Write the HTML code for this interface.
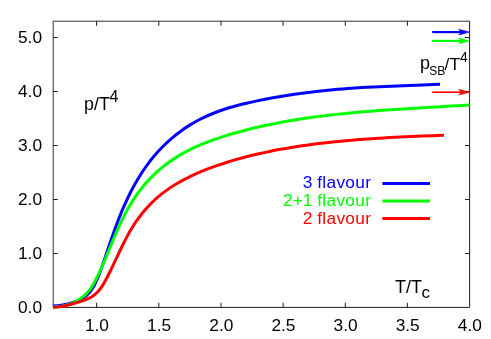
<!DOCTYPE html>
<html><head><meta charset="utf-8"><title>p/T^4</title>
<style>
html,body{margin:0;padding:0;background:#fff;}
body{width:491px;height:339px;overflow:hidden;}
svg{display:block;will-change:transform;}
text{font-family:"Liberation Sans",sans-serif;font-size:17.3px;fill:#000;}
</style></head><body>
<svg width="491" height="339" viewBox="0 0 491 339">
<rect width="491" height="339" fill="#fff"/>
<g stroke="#1c1c1c" stroke-width="1" fill="none">
<path d="M53.2,307.4V21.2H469.6" stroke="#333"/>
<path d="M469.6,21.2V307.4H53.2" />
<path d="M96.6,307.4V302.8M96.6,21.2V25.8"/><path d="M158.8,307.4V302.8M158.8,21.2V25.8"/><path d="M221.0,307.4V302.8M221.0,21.2V25.8"/><path d="M283.1,307.4V302.8M283.1,21.2V25.8"/><path d="M345.3,307.4V302.8M345.3,21.2V25.8"/><path d="M407.4,307.4V302.8M407.4,21.2V25.8"/><path d="M53.2,253.5H57.8M469.6,253.5H465.0"/><path d="M53.2,199.5H57.8M469.6,199.5H465.0"/><path d="M53.2,145.5H57.8M469.6,145.5H465.0"/><path d="M53.2,91.5H57.8M469.6,91.5H465.0"/><path d="M53.2,37.5H57.8M469.6,37.5H465.0"/>
</g>
<g fill="none" stroke-linecap="butt" stroke-linejoin="round" stroke-width="3.0">
<path d="M53.20,306.08 C53.70,306.04 55.18,305.92 56.22,305.81 C57.26,305.70 58.34,305.58 59.44,305.43 C60.54,305.28 61.67,305.11 62.80,304.92 C63.94,304.73 65.10,304.51 66.26,304.27 C67.41,304.02 68.58,303.75 69.73,303.44 C70.89,303.14 72.05,302.80 73.19,302.43 C74.32,302.06 75.45,301.65 76.55,301.20 C77.65,300.75 78.74,300.27 79.78,299.74 C80.82,299.21 81.84,298.65 82.81,298.04 C83.78,297.44 84.71,296.80 85.59,296.13 C86.46,295.46 87.29,294.75 88.05,294.02 C88.81,293.28 89.51,292.52 90.16,291.73 C90.81,290.94 91.40,290.12 91.96,289.28 C92.52,288.44 93.03,287.57 93.52,286.69 C94.02,285.80 94.48,284.89 94.94,283.96 C95.40,283.03 95.84,282.09 96.27,281.12 C96.71,280.16 97.13,279.17 97.55,278.18 C97.97,277.18 98.38,276.17 98.79,275.15 C99.20,274.13 99.60,273.09 99.99,272.05 C100.39,271.00 100.78,269.95 101.17,268.89 C101.56,267.82 101.94,266.75 102.32,265.68 C102.70,264.61 103.07,263.53 103.45,262.45 C103.82,261.37 104.19,260.28 104.56,259.20 C104.93,258.11 105.29,257.03 105.66,255.95 C106.02,254.87 106.39,253.79 106.75,252.71 C107.11,251.63 107.48,250.56 107.84,249.49 C108.20,248.42 108.56,247.35 108.93,246.29 C109.29,245.22 109.65,244.16 110.01,243.10 C110.38,242.04 110.74,240.98 111.10,239.92 C111.47,238.87 111.83,237.81 112.20,236.76 C112.57,235.71 112.94,234.67 113.31,233.62 C113.68,232.57 114.05,231.53 114.42,230.49 C114.80,229.45 115.17,228.41 115.55,227.38 C115.93,226.34 116.31,225.31 116.70,224.28 C117.09,223.25 117.47,222.22 117.87,221.19 C118.26,220.16 118.65,219.14 119.05,218.12 C119.45,217.10 119.86,216.08 120.27,215.06 C120.68,214.04 121.09,213.03 121.51,212.02 C121.92,211.00 121.74,211.32 122.78,208.98 C123.81,206.65 125.97,201.65 127.70,198.03 C129.43,194.40 131.25,190.80 133.18,187.24 C135.11,183.68 137.14,180.15 139.28,176.69 C141.43,173.23 143.68,169.81 146.04,166.50 C148.41,163.18 150.89,159.93 153.50,156.79 C156.10,153.66 158.82,150.61 161.66,147.70 C164.50,144.78 167.47,141.98 170.54,139.31 C173.60,136.64 176.78,134.09 180.04,131.69 C183.30,129.29 186.67,127.02 190.11,124.90 C193.54,122.78 197.08,120.81 200.66,119.00 C204.25,117.18 207.92,115.53 211.64,114.00 C215.35,112.46 219.14,111.08 222.95,109.79 C226.77,108.50 230.65,107.35 234.54,106.26 C238.44,105.16 242.38,104.18 246.33,103.25 C250.28,102.31 254.27,101.46 258.25,100.64 C262.23,99.82 266.23,99.05 270.23,98.31 C274.23,97.57 278.24,96.88 282.26,96.21 C286.27,95.55 290.29,94.93 294.31,94.35 C298.34,93.76 302.37,93.21 306.40,92.69 C310.44,92.18 314.48,91.69 318.52,91.24 C322.56,90.79 326.61,90.38 330.66,89.99 C334.70,89.60 338.76,89.25 342.81,88.92 C346.86,88.59 350.92,88.29 354.97,88.02 C359.03,87.75 363.08,87.51 367.14,87.29 C371.20,87.06 375.26,86.87 379.31,86.68 C383.37,86.50 387.42,86.33 391.48,86.17 C395.53,86.01 399.58,85.86 403.63,85.71 C407.68,85.56 411.73,85.41 415.78,85.26 C419.82,85.10 423.86,84.94 427.90,84.77 C431.94,84.59 437.98,84.29 440.00,84.20" stroke="#0000ff"/>
<path d="M53.20,307.28 C53.76,307.22 55.45,307.06 56.56,306.93 C57.67,306.80 58.78,306.67 59.88,306.50 C60.97,306.34 62.07,306.16 63.15,305.95 C64.23,305.73 65.30,305.50 66.36,305.21 C67.42,304.93 68.48,304.61 69.52,304.25 C70.55,303.88 71.58,303.46 72.59,303.01 C73.61,302.55 74.61,302.05 75.59,301.51 C76.57,300.98 77.55,300.40 78.50,299.80 C79.45,299.20 80.39,298.57 81.30,297.91 C82.20,297.25 83.10,296.57 83.95,295.85 C84.80,295.13 85.62,294.38 86.41,293.60 C87.19,292.82 87.94,292.01 88.64,291.16 C89.35,290.32 90.01,289.44 90.64,288.54 C91.27,287.64 91.85,286.70 92.42,285.76 C92.99,284.81 93.52,283.84 94.06,282.87 C94.59,281.91 95.11,280.93 95.63,279.95 C96.14,278.97 96.64,277.99 97.14,277.00 C97.63,276.01 98.12,275.02 98.59,274.03 C99.07,273.03 99.54,272.03 100.00,271.02 C100.47,270.02 100.92,269.01 101.38,268.00 C101.83,266.99 102.27,265.98 102.72,264.96 C103.16,263.94 103.60,262.92 104.03,261.90 C104.46,260.88 104.90,259.86 105.33,258.83 C105.75,257.81 106.18,256.78 106.61,255.75 C107.03,254.72 107.46,253.69 107.88,252.66 C108.31,251.63 108.73,250.60 109.16,249.57 C109.59,248.54 110.01,247.51 110.44,246.48 C110.86,245.44 111.29,244.41 111.72,243.38 C112.15,242.35 112.58,241.32 113.01,240.29 C113.44,239.26 113.88,238.23 114.32,237.20 C114.75,236.18 115.19,235.15 115.64,234.12 C116.08,233.10 116.53,232.08 116.98,231.06 C117.43,230.03 117.88,229.02 118.34,228.00 C118.80,226.98 119.26,225.97 119.73,224.96 C120.20,223.95 120.67,222.94 121.15,221.94 C121.63,220.93 122.11,219.93 122.60,218.93 C123.09,217.94 123.59,216.94 124.09,215.95 C124.60,214.96 125.11,213.98 125.63,213.00 C126.15,212.02 125.88,212.33 127.20,210.07 C128.52,207.81 131.29,202.88 133.55,199.42 C135.80,195.97 138.19,192.58 140.74,189.33 C143.30,186.07 146.02,182.91 148.87,179.89 C151.72,176.87 154.73,173.95 157.83,171.19 C160.94,168.43 164.18,165.79 167.51,163.32 C170.83,160.85 174.28,158.52 177.79,156.35 C181.30,154.19 184.90,152.21 188.56,150.35 C192.22,148.48 195.95,146.79 199.74,145.18 C203.52,143.56 207.38,142.08 211.27,140.65 C215.15,139.22 219.10,137.88 223.07,136.60 C227.04,135.32 231.06,134.12 235.08,132.97 C239.11,131.82 243.18,130.74 247.24,129.71 C251.31,128.68 255.40,127.72 259.48,126.79 C263.56,125.87 267.65,125.00 271.73,124.17 C275.82,123.34 279.91,122.56 284.00,121.82 C288.09,121.07 292.18,120.38 296.27,119.72 C300.36,119.05 304.46,118.43 308.55,117.84 C312.65,117.26 316.74,116.70 320.84,116.18 C324.94,115.66 329.04,115.17 333.15,114.71 C337.25,114.25 341.35,113.81 345.46,113.40 C349.57,112.99 353.68,112.61 357.79,112.24 C361.90,111.88 366.02,111.54 370.13,111.21 C374.25,110.88 378.37,110.57 382.49,110.28 C386.61,109.98 390.74,109.70 394.87,109.43 C398.99,109.16 403.12,108.90 407.26,108.65 C411.39,108.39 415.53,108.15 419.67,107.91 C423.81,107.66 427.95,107.43 432.10,107.19 C436.24,106.95 440.39,106.71 444.54,106.47 C448.70,106.22 452.85,105.98 457.01,105.72 C461.17,105.47 467.42,105.07 469.50,104.94" stroke="#00ff00"/>
<path d="M53.17,307.30 C53.68,307.27 55.18,307.21 56.22,307.12 C57.26,307.02 58.33,306.89 59.41,306.73 C60.49,306.57 61.60,306.38 62.71,306.16 C63.82,305.95 64.95,305.71 66.08,305.45 C67.21,305.19 68.36,304.91 69.50,304.62 C70.64,304.33 71.79,304.02 72.92,303.70 C74.06,303.38 75.20,303.05 76.33,302.72 C77.45,302.38 78.57,302.05 79.67,301.70 C80.77,301.36 81.86,301.02 82.93,300.65 C84.00,300.29 85.05,299.91 86.07,299.51 C87.09,299.10 88.09,298.68 89.05,298.20 C90.01,297.73 90.95,297.24 91.85,296.69 C92.75,296.13 93.61,295.54 94.43,294.89 C95.25,294.24 96.03,293.53 96.79,292.79 C97.54,292.05 98.25,291.26 98.94,290.44 C99.63,289.62 100.29,288.76 100.93,287.87 C101.56,286.99 102.17,286.07 102.76,285.13 C103.36,284.20 103.93,283.23 104.49,282.26 C105.04,281.29 105.58,280.29 106.12,279.29 C106.65,278.30 107.17,277.29 107.68,276.28 C108.20,275.27 108.70,274.26 109.21,273.25 C109.71,272.24 110.21,271.23 110.70,270.22 C111.19,269.20 111.68,268.19 112.17,267.18 C112.66,266.16 113.14,265.15 113.62,264.13 C114.10,263.12 114.57,262.11 115.05,261.09 C115.53,260.08 116.00,259.07 116.48,258.06 C116.95,257.05 117.43,256.04 117.90,255.03 C118.38,254.02 118.85,253.01 119.33,252.01 C119.81,251.00 120.29,250.00 120.77,249.00 C121.25,248.00 121.74,247.00 122.23,246.01 C122.72,245.01 123.21,244.02 123.70,243.03 C124.20,242.04 124.70,241.06 125.21,240.07 C125.72,239.09 126.23,238.12 126.75,237.14 C127.27,236.17 127.80,235.20 128.33,234.24 C128.87,233.27 129.41,232.31 129.96,231.36 C130.51,230.40 131.07,229.46 131.64,228.51 C132.21,227.57 132.78,226.63 133.37,225.70 C133.96,224.77 134.56,223.84 135.18,222.92 C135.79,222.01 135.62,222.09 137.05,220.19 C138.47,218.29 141.37,214.31 143.72,211.51 C146.07,208.71 148.57,205.96 151.15,203.37 C153.73,200.78 156.44,198.30 159.23,195.96 C162.02,193.63 164.91,191.44 167.87,189.36 C170.83,187.29 173.88,185.35 176.99,183.50 C180.10,181.66 183.29,179.93 186.52,178.29 C189.75,176.65 193.05,175.11 196.37,173.64 C199.70,172.17 203.07,170.79 206.47,169.46 C209.86,168.13 213.29,166.88 216.73,165.67 C220.18,164.47 223.64,163.32 227.13,162.23 C230.61,161.14 234.11,160.10 237.63,159.11 C241.15,158.11 244.68,157.18 248.23,156.28 C251.77,155.38 255.34,154.54 258.90,153.73 C262.47,152.92 266.05,152.15 269.64,151.42 C273.22,150.69 276.82,150.01 280.41,149.35 C284.01,148.69 287.61,148.07 291.22,147.48 C294.82,146.89 298.43,146.33 302.05,145.80 C305.66,145.27 309.27,144.77 312.89,144.30 C316.51,143.83 320.14,143.38 323.76,142.96 C327.39,142.54 331.01,142.15 334.64,141.78 C338.27,141.40 341.91,141.06 345.54,140.73 C349.18,140.40 352.81,140.09 356.45,139.80 C360.09,139.51 363.73,139.24 367.37,138.98 C371.01,138.73 374.65,138.49 378.30,138.26 C381.94,138.04 385.59,137.83 389.23,137.62 C392.88,137.42 396.52,137.24 400.17,137.06 C403.81,136.87 407.46,136.71 411.10,136.54 C414.75,136.38 418.40,136.22 422.04,136.07 C425.69,135.92 429.33,135.77 432.97,135.63 C436.62,135.48 442.08,135.27 443.90,135.20" stroke="#ff0000"/>
</g>
<path d="M432.2,32.1H461.2" stroke="#0000ff" stroke-width="2.2" fill="none"/><path d="M469.5,32.1L458.7,29.200000000000003L461.2,32.1L458.7,35.0Z" fill="#0000ff" stroke="#0000ff" stroke-width="0.6" stroke-linejoin="miter"/>
<path d="M432.2,40.9H461.2" stroke="#00ff00" stroke-width="2.2" fill="none"/><path d="M469.5,40.9L458.7,38.0L461.2,40.9L458.7,43.8Z" fill="#00ff00" stroke="#00ff00" stroke-width="0.6" stroke-linejoin="miter"/>
<path d="M432.2,92.2H461.2" stroke="#ff0000" stroke-width="1.6" fill="none"/><path d="M469.5,92.2L458.7,89.3L461.2,92.2L458.7,95.10000000000001Z" fill="#ff0000" stroke="#ff0000" stroke-width="0.6" stroke-linejoin="miter"/>
<g><text x="96.9" y="331" text-anchor="middle">1.0</text><text x="159.1" y="331" text-anchor="middle">1.5</text><text x="221.3" y="331" text-anchor="middle">2.0</text><text x="283.4" y="331" text-anchor="middle">2.5</text><text x="345.6" y="331" text-anchor="middle">3.0</text><text x="407.7" y="331" text-anchor="middle">3.5</text><text x="469.8" y="331" text-anchor="middle">4.0</text><text x="42.0" y="313.0" text-anchor="end">0.0</text><text x="42.0" y="259.0" text-anchor="end">1.0</text><text x="42.0" y="205.0" text-anchor="end">2.0</text><text x="42.0" y="151.0" text-anchor="end">3.0</text><text x="42.0" y="97.0" text-anchor="end">4.0</text><text x="42.0" y="43.0" text-anchor="end">5.0</text></g>
<text x="84.1" y="109.6" style="font-size:17.8px">p/T</text><text x="109.6" y="101.7" style="font-size:16px">4</text>
<text x="395.1" y="292.6" style="font-size:18px">T/T</text><text x="421.5" y="298.0" style="font-size:17px">c</text>
<text x="420.0" y="69.3" style="font-size:18px">p</text><text x="429.2" y="75.0" style="font-size:12px">SB</text><text x="444.6" y="70" style="font-size:17.4px">/T</text><text x="460.0" y="62" style="font-size:14px">4</text>
<text x="371.3" y="187.9" text-anchor="end" style="fill:#0000ff">3 <tspan letter-spacing="0.32">flavour</tspan></text>
<text x="371.3" y="206.0" text-anchor="end" style="fill:#00ff00">2+1 <tspan letter-spacing="0.32">flavour</tspan></text>
<text x="371.3" y="223.8" text-anchor="end" style="fill:#ff0000">2 <tspan letter-spacing="0.32">flavour</tspan></text>
<g stroke-width="3" fill="none">
<path d="M382.4,183.5H430" stroke="#0000ff"/>
<path d="M382.4,201H430" stroke="#00ff00"/>
<path d="M382.4,218.6H430" stroke="#ff0000"/>
</g>
</svg>
</body></html>
